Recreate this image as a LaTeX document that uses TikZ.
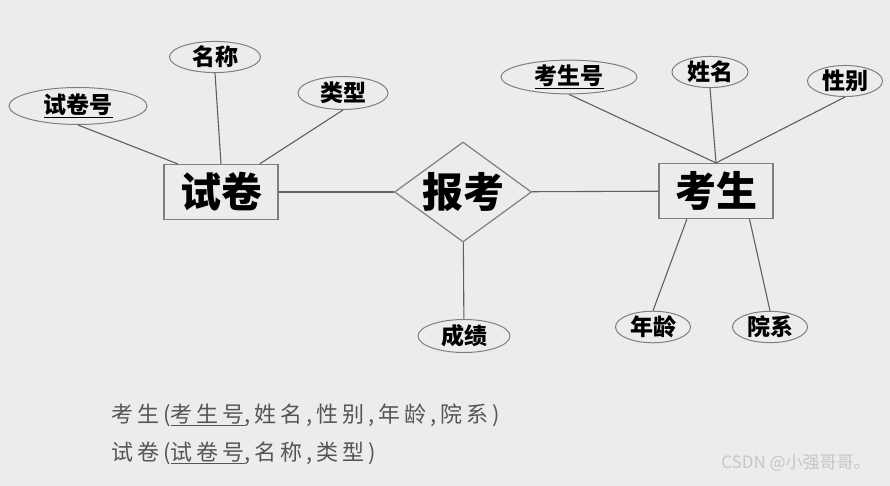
\documentclass[tikz,border=0pt]{standalone}
\usepackage{fontspec}
\newfontfamily\cjk{Noto Sans CJK SC}
\newfontfamily\cjknote{Noto Sans CJK SC}[LetterSpace=18]
\usepackage{tikz}
\usetikzlibrary{shapes.geometric}
\definecolor{bg}{RGB}{236,236,236}
\definecolor{edge}{RGB}{95,95,95}
\definecolor{notes}{RGB}{85,85,85}
\begin{document}
\begin{tikzpicture}[x=1pt,y=-1pt,
box/.style={draw=edge!80,fill=bg,line width=1.2pt,minimum width=114pt,minimum height=55pt,inner sep=0pt,font=\cjk\bfseries\fontsize{41}{41}\selectfont},
rel/.style={draw=edge!80,fill=bg,diamond,line width=1.2pt,minimum width=137pt,minimum height=100pt,inner sep=0pt},
attr/.style={draw=edge!80,fill=bg,ellipse,line width=1pt,inner sep=0pt,minimum height=31pt,font=\cjk\bfseries\fontsize{23}{23}\selectfont},
line/.style={draw=edge,line width=1.1pt},
note/.style={anchor=west,text=notes,font=\cjknote\fontsize{22}{22}\selectfont}]
\fill[bg] (0,0) rectangle (890,486);
\useasboundingbox (0,0) rectangle (890,486);
% entities and relationship
\node[box](sj) at (221,192){试卷};
\node[rel](bk) at (463,192){};
\node[font=\cjk\bfseries\fontsize{41}{41}\selectfont](bkt) at (bk){报考};
\node[box](ks) at (716,191){考生};
% attributes
\node[attr,minimum width=138pt,minimum height=37pt](sjh) at (78,106){\underline{试卷号}};
\node[attr,minimum width=91pt](mc) at (215,57){名称};
\node[attr,minimum width=90pt,minimum height=33pt](lx) at (343,93){类型};
\node[attr,minimum width=136pt,minimum height=30pt](ksh) at (569,77){\underline{考生号}};
\node[attr,minimum width=76pt,minimum height=29pt](xm) at (710,72){姓名};
\node[attr,minimum width=75pt](xb) at (845,81){性别};
\node[attr,minimum width=75pt](nl) at (653,327){年龄};
\node[attr,minimum width=75pt](yx) at (770,327){院系};
\node[attr,minimum width=92pt,minimum height=33pt](cj) at (464,336){成绩};
\draw[line](sjh.south)--(sj.147);\draw[line](mc.south)--(sj.north);\draw[line](lx.south)--(sj.36);
\draw[line](sj)--(bk);\draw[line](bk)--(ks);\draw[line](bk)--(cj);
\draw[line](ksh.south)--(ks.north);\draw[line](xm.south)--(ks.north);\draw[line](xb.south)--(ks.north);
\draw[line](ks.224)--(nl.north);\draw[line](ks.320)--(yx.north);
% relation schemas
\node[note](r1) at (108,415){考生(\underline{考生号},姓名,性别,年龄,院系)};
\node[note](r2) at (108,453){试卷(\underline{试卷号},名称,类型)};
\node[text=gray!45,font=\cjk\fontsize{17}{17}\selectfont](wm) at (796,463){CSDN @小强哥哥。};
\end{tikzpicture}
\end{document}
